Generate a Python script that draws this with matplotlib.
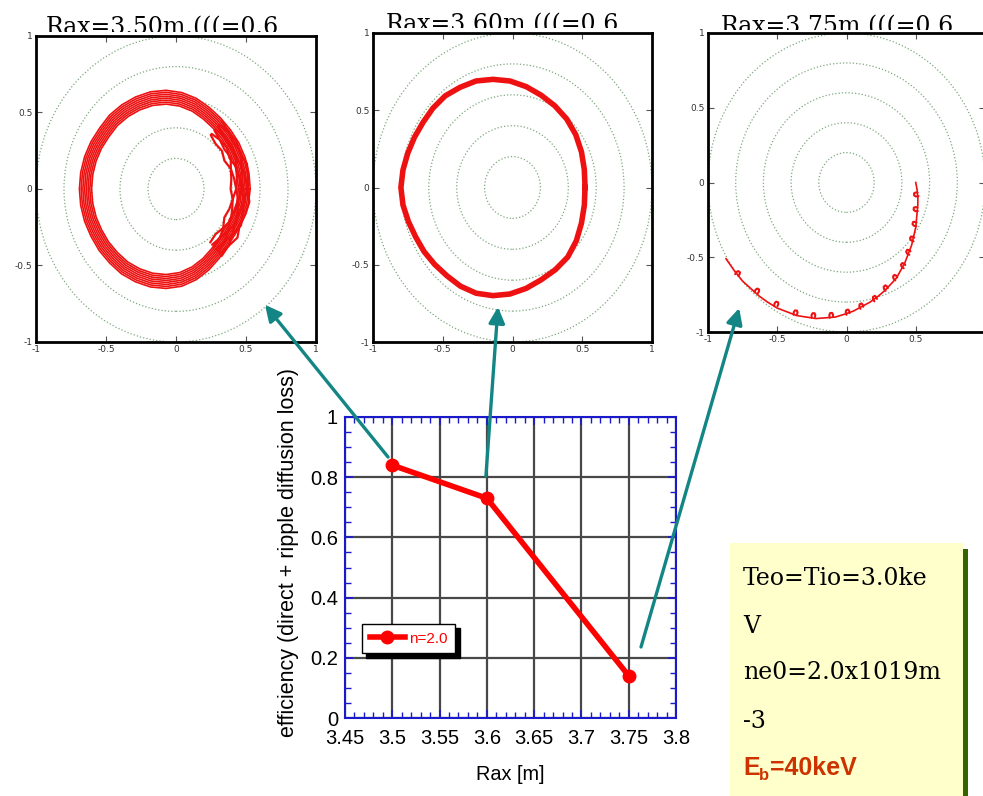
import matplotlib
matplotlib.use('Agg')
import numpy as np
import matplotlib.pyplot as plt
from matplotlib.patches import Circle, Rectangle, ConnectionPatch
from matplotlib.ticker import MultipleLocator

W, H = 983, 796

# 下方效率曲线
rax = [3.5, 3.6, 3.75]
eff = [0.84, 0.73, 0.14]
x_ticks = [3.45, 3.5, 3.55, 3.6, 3.65, 3.7, 3.75, 3.8]
x_tick_labels = ['3.45', '3.5', '3.55', '3.6', '3.65', '3.7', '3.75', '3.8']
y_ticks = [0, 0.2, 0.4, 0.6, 0.8, 1]
y_tick_labels = ['0', '0.2', '0.4', '0.6', '0.8', '1']

# 上方三个轨道图
panel_titles = ['Rax=3.50m.(((=0.6', 'Rax=3.60m.(((=0.6', 'Rax=3.75m.(((=0.6']
panel_ticks = [-1, -0.5, 0, 0.5, 1]
panel_tick_labels = ['-1', '-0.5', '0', '0.5', '1']
flux_radii = [0.2, 0.4, 0.6, 0.8, 1.0]

# 轨道按角度(每10度)读出的半径
orbit_deg = list(range(0, 370, 10))

# Rax=3.50 多圈轨道, 中心约(-0.07, 0)
orbit1_center = (-0.07, 0.0)
orbit1_r = [0.60, 0.60, 0.60, 0.60, 0.60, 0.605, 0.615, 0.63, 0.64, 0.645, 0.645, 0.64,
            0.635, 0.63, 0.62, 0.62, 0.62, 0.62, 0.62, 0.62, 0.62, 0.62, 0.625, 0.63,
            0.64, 0.645, 0.65, 0.65, 0.645, 0.63, 0.61, 0.59, 0.575, 0.575, 0.585, 0.595, 0.60]
loop_scales = [1.0, 0.98, 0.96, 0.94, 0.92, 0.90, 0.88, 0.86]
# 右侧密集部分
blob_deg = [-48, -40, -32, -24, -16, -8, 0, 8, 16, 24, 32, 40, 48]
blob_r = [0.47, 0.49, 0.51, 0.53, 0.55, 0.57, 0.59]
blob_wobble = [0.00, 0.01, -0.01, 0.015, 0.00, -0.01, 0.01, 0.0, -0.01, 0.015, 0.0, 0.01, -0.005]

# Rax=3.60 单圈轨道, 中心约(-0.14, 0)
orbit2_center = (-0.14, 0.0)
orbit2_r = [0.66, 0.665, 0.675, 0.685, 0.69, 0.69, 0.69, 0.695, 0.70, 0.70, 0.70, 0.69,
            0.685, 0.67, 0.655, 0.65, 0.65, 0.655, 0.66, 0.655, 0.645, 0.64, 0.645, 0.65,
            0.66, 0.68, 0.695, 0.70, 0.70, 0.695, 0.69, 0.695, 0.70, 0.69, 0.675, 0.665, 0.66]

# Rax=3.75 损失轨道
orbit3_x = [0.50, 0.51, 0.515, 0.515, 0.51, 0.505, 0.50, 0.485, 0.47, 0.445, 0.42, 0.39,
            0.36, 0.32, 0.28, 0.23, 0.17, 0.11, 0.05, -0.01, -0.08, -0.15, -0.22, -0.29,
            -0.36, -0.43, -0.50, -0.57, -0.63, -0.69, -0.75, -0.81, -0.87]
orbit3_y = [0.00, -0.05, -0.10, -0.15, -0.20, -0.25, -0.30, -0.36, -0.42, -0.48, -0.54, -0.59,
            -0.64, -0.68, -0.72, -0.76, -0.80, -0.83, -0.86, -0.88, -0.90, -0.905, -0.91, -0.90,
            -0.89, -0.865, -0.84, -0.80, -0.76, -0.71, -0.66, -0.59, -0.51]
hook_x = [0.515, 0.51, 0.50, 0.48, 0.45, 0.41, 0.35, 0.28, 0.20, 0.10, 0.0, -0.12,
          -0.25, -0.38, -0.52, -0.66, -0.80]
hook_y = [-0.09, -0.19, -0.29, -0.39, -0.48, -0.57, -0.65, -0.72, -0.79, -0.84, -0.88, -0.90,
          -0.90, -0.88, -0.82, -0.73, -0.61]
# 小卷曲的形状(向内, 沿切向)
curl_in = [-0.005, 0.012, 0.026, 0.03, 0.02, 0.006]
curl_tan = [0.0, 0.006, 0.002, -0.012, -0.02, -0.022]

params_lines = ['Teo=Tio=3.0ke', 'V', 'ne0=2.0x1019m', '-3']


def px(x0, y0, x1, y1):
    return [x0 / W, 1 - y1 / H, (x1 - x0) / W, (y1 - y0) / H]


def polar_xy(center, deg, r):
    a = np.deg2rad(np.asarray(deg, dtype=float))
    r = np.asarray(r, dtype=float)
    return center[0] + r * np.cos(a), center[1] + r * np.sin(a)


fig = plt.figure(figsize=(W / 100, H / 100), dpi=100)
fig.patch.set_facecolor('white')

panel_boxes = [(36, 36, 316, 342), (373, 33, 652, 342), (708, 33, 985, 332)]
title_x = [162, 502, 837]
title_base = [34, 31, 33]
mask_top = [32, 28, 30]

panels = []
for i, box in enumerate(panel_boxes):
    ax = fig.add_axes(px(*box))
    ax.set_xlim(-1, 1)
    ax.set_ylim(-1, 1)
    for r in flux_radii:
        ax.add_patch(Circle((0, 0), r, fill=False, ls=':', ec='#7fa87f', lw=0.9))
    xl = list(panel_tick_labels)
    if i == 2:
        xl[-1] = ''  # 右侧被裁掉
    ax.set_xticks(panel_ticks, xl)
    ax.set_yticks(panel_ticks, panel_tick_labels)
    ax.tick_params(direction='in', length=4, width=0.8, top=True, right=True,
                   labelsize=6.5, labelcolor='#333333', pad=2.5, color='#555555')
    for s in ax.spines.values():
        s.set_linewidth(2)
        s.set_color('black')
    panels.append(ax)
    # 标题下半部分被图框挡住
    fig.text(title_x[i] / W, 1 - title_base[i] / H, panel_titles[i], ha='center', va='baseline',
             fontsize=17, family='DejaVu Serif', color='black', zorder=-3)
    fig.patches.append(Rectangle(((box[0] - 10) / W, 1 - box[1] / H), (box[2] - box[0] + 20) / W,
                                 (box[1] - mask_top[i]) / H, transform=fig.transFigure,
                                 fc='white', ec='none', zorder=-2))

red = '#ee1111'
ax1, ax2, ax3 = panels
for s in loop_scales:
    x, y = polar_xy(orbit1_center, orbit_deg, np.array(orbit1_r) * s)
    ax1.plot(x, y, color=red, lw=1.2, solid_joinstyle='round')
for k, br in enumerate(blob_r):
    rr = br + np.array(blob_wobble) * (1 if k % 2 else -1)
    x, y = polar_xy(orbit1_center, blob_deg, rr)
    ax1.plot(x, y, color=red, lw=1.6, solid_joinstyle='round', solid_capstyle='round')

x, y = polar_xy(orbit2_center, orbit_deg, orbit2_r)
ax2.plot(x, y, color=red, lw=4, solid_joinstyle='round')

ax3.plot(orbit3_x, orbit3_y, color=red, lw=1.2)
for hx, hy in zip(hook_x, hook_y):
    n = np.hypot(hx, hy)
    ix, iy = -hx / n, -hy / n
    tx, ty = -iy, ix
    ax3.plot(hx + np.array(curl_in) * ix + np.array(curl_tan) * tx,
             hy + np.array(curl_in) * iy + np.array(curl_tan) * ty,
             color=red, lw=1.5, solid_capstyle='round', solid_joinstyle='round')

# 下方主图
axm = fig.add_axes(px(345, 417, 676, 718))
axm.set_xlim(3.45, 3.8)
axm.set_ylim(0, 1)
axm.set_xticks(x_ticks, x_tick_labels)
axm.set_yticks(y_ticks, y_tick_labels)
axm.xaxis.set_minor_locator(MultipleLocator(0.01))
axm.yaxis.set_minor_locator(MultipleLocator(0.05))
axm.grid(which='major', color='#484848', lw=1.6)
axm.tick_params(which='both', direction='in', top=True, right=True, color='#1a1acc')
axm.tick_params(which='major', length=6, width=1.2)
axm.tick_params(which='minor', length=4, width=1)
axm.tick_params(axis='x', labelsize=14.5, pad=8)
axm.tick_params(axis='y', labelsize=14.5, pad=5)
for lab in axm.get_xticklabels() + axm.get_yticklabels():
    lab.set_family('Liberation Sans')
for s in axm.spines.values():
    s.set_color('#1a1acc')
    s.set_linewidth(1.5)
axm.plot(rax, eff, color='red', lw=4, marker='o', markersize=9, label='n=2.0', zorder=5)
axm.set_xlabel('Rax [m]', fontsize=14.3, family='Liberation Sans')
axm.set_ylabel('efficiency (direct + ripple diffusion loss)', fontsize=15.5, family='Liberation Sans')
axm.xaxis.set_label_coords(0.5, -0.155)
axm.yaxis.set_label_coords(-0.14, 0.55)
axm.legend(loc='upper left', bbox_to_anchor=(0.051, 0.312), borderaxespad=0, fancybox=False,
           edgecolor='black', framealpha=1, labelcolor='red', handlelength=2.3, handletextpad=0.3,
           borderpad=0.5, prop={'family': 'Liberation Sans', 'size': 11},
           shadow={'ox': 3, 'oy': -3, 'color': 'black', 'alpha': 1})

# 箭头
arrow_tail = [(3.4955, 0.867), (3.599, 0.804), (3.763, 0.236)]
arrow_tip = [(0.636, -0.757), (-0.104, -0.773), (-0.775, -0.84)]
for (tx0, ty0), (hx0, hy0), pax in zip(arrow_tail, arrow_tip, panels):
    con = ConnectionPatch(xyA=(tx0, ty0), coordsA=axm.transData, xyB=(hx0, hy0), coordsB=pax.transData,
                          arrowstyle='-|>', mutation_scale=24, color='#138585', lw=2.4, zorder=20)
    fig.add_artist(con)

# 参数文本框
fig.patches.append(Rectangle((963 / W, 0), 5 / W, 1 - 549 / H, transform=fig.transFigure,
                             fc='#336600', ec='none', zorder=1))
fig.patches.append(Rectangle((730 / W, 0), 233 / W, 1 - 543 / H, transform=fig.transFigure,
                             fc='#ffffcc', ec='none', zorder=1))
line_base = [585, 633, 679, 728]
for t, yb in zip(params_lines, line_base):
    fig.text(743 / W, 1 - yb / H, t, fontsize=17, family='DejaVu Serif', va='baseline', zorder=2)
ec = '#cc3300'
fig.text(743 / W, 1 - 775 / H, 'E', fontsize=18, weight='bold', family='Liberation Sans', color=ec,
         va='baseline', zorder=2)
fig.text(759 / W, 1 - 780 / H, 'b', fontsize=12, weight='bold', family='Liberation Sans', color=ec,
         va='baseline', zorder=2)
fig.text(770 / W, 1 - 775 / H, '=40keV', fontsize=18, weight='bold', family='Liberation Sans', color=ec,
         va='baseline', zorder=2)

fig.savefig('out.png', dpi=100)
